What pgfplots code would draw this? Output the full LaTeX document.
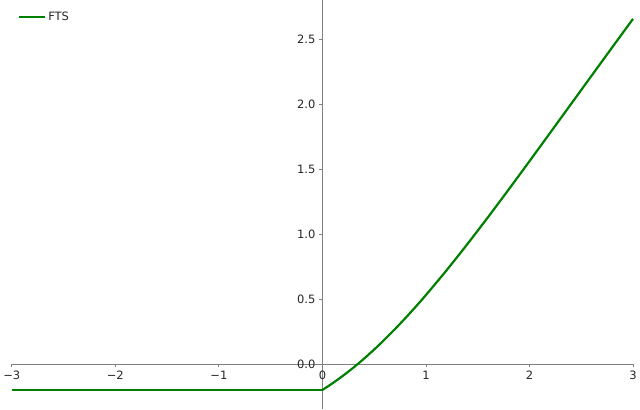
\documentclass[border=0pt]{standalone}
\usepackage{fontspec}
\setmainfont{DejaVu Sans}
\usepackage{pgfplots}
\pgfplotsset{compat=1.18}

\definecolor{mplgreen}{RGB}{0,128,0}
\definecolor{spine}{RGB}{128,128,128}

\begin{document}
\begin{tikzpicture}
\begin{axis}[
  width=622pt, height=409pt, scale only axis,
  axis lines=middle,
  axis line style={-, spine, line width=0.8pt},
  xmin=-3, xmax=3, ymin=-0.346, ymax=2.8,
  xtick={-3,-2,-1,0,1,2,3},
  xticklabels={−3,−2,−1,0,1,2,3},
  ytick={0,0.5,1,1.5,2,2.5},
  yticklabels={0.0,0.5,1.0,1.5,2.0,2.5},
  hide obscured x ticks=false, hide obscured y ticks=false,
  tick align=outside, major tick length=3.5pt,
  tick style={spine, line width=0.8pt},
  ticklabel style={font=\fontsize{11.5}{13}\selectfont, text=black!85},
  /pgf/number format/assume math mode=true,
  legend style={at={(axis cs:-2.97,2.74)}, anchor=north west, draw=none, fill=none,
    font=\fontsize{11.5}{13}\selectfont, text=black!85},
  legend cell align=left,
  legend image code/.code={\draw[#1] (0pt,0pt) -- (26pt,0pt);},
  clip=false,
]
\addplot[mplgreen, line width=2.2pt, smooth] coordinates {
  (-3,-0.2) (-2,-0.2) (-1,-0.2) (0,-0.2)
};
\addlegendentry{FTS}
\addplot[mplgreen, line width=2.2pt, smooth, forget plot] coordinates {
  (0,-0.2) (0.1,-0.1475) (0.2,-0.0900) (0.3,-0.0277) (0.4,0.0395)
  (0.5,0.1112) (0.6,0.1874) (0.7,0.2677) (0.8,0.3520) (0.9,0.4399)
  (1.0,0.5311) (1.2,0.7222) (1.4,0.9231) (1.6,1.1312) (1.8,1.3447)
  (2.0,1.5616) (2.2,1.7806) (2.4,2.0004) (2.6,2.2202) (2.8,2.4395)
  (3.0,2.6577)
};
\end{axis}
\end{tikzpicture}
\end{document}
